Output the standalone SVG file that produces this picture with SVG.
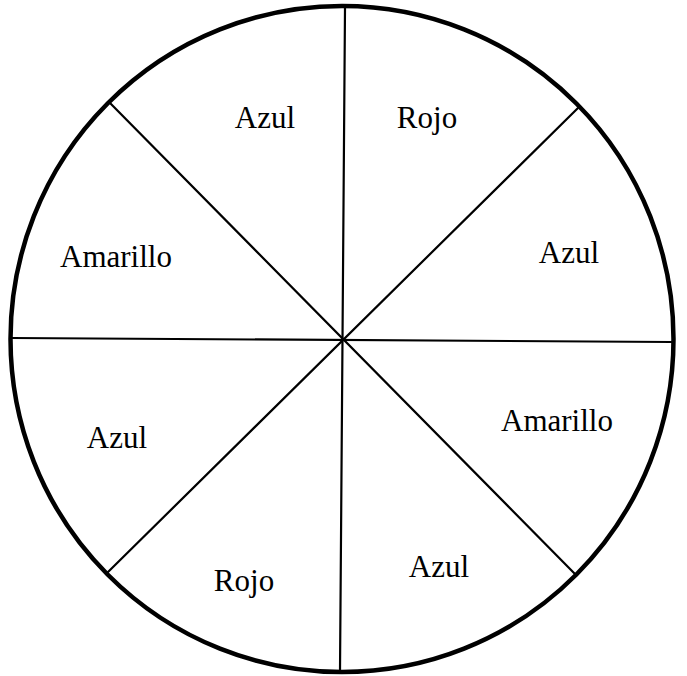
<svg xmlns="http://www.w3.org/2000/svg" width="687" height="676" viewBox="0 0 687 676">
<style>
.spoke{stroke:#000;stroke-width:2.2;fill:none;stroke-linecap:round}
.rim{stroke:#000;stroke-width:4.5;fill:none}
.lbl{font-family:"Liberation Serif","Times New Roman",serif;font-size:31px;fill:#000;text-anchor:middle}
</style>
<rect width="687" height="676" fill="#fff"/>
<g id="connectors">
<line class="spoke" x1="345" y1="8" x2="340" y2="671"/>
<line class="spoke" x1="12" y1="338" x2="672" y2="342"/>
<line class="spoke" x1="110" y1="103" x2="575" y2="574"/>
<line class="spoke" x1="578" y1="108" x2="107" y2="573"/>
</g>
<g id="rim"><ellipse class="rim" cx="342" cy="339" rx="331.5" ry="333"/></g>
<g id="s1"><text class="lbl" x="265" y="128">Azul</text></g>
<g id="s2"><text class="lbl" x="427" y="128">Rojo</text></g>
<g id="s3"><text class="lbl" x="569" y="263">Azul</text></g>
<g id="s4"><text class="lbl" x="557" y="431">Amarillo</text></g>
<g id="s5"><text class="lbl" x="439" y="577">Azul</text></g>
<g id="s6"><text class="lbl" x="244" y="591">Rojo</text></g>
<g id="s7"><text class="lbl" x="117" y="448">Azul</text></g>
<g id="s8"><text class="lbl" x="116" y="267">Amarillo</text></g>
</svg>
